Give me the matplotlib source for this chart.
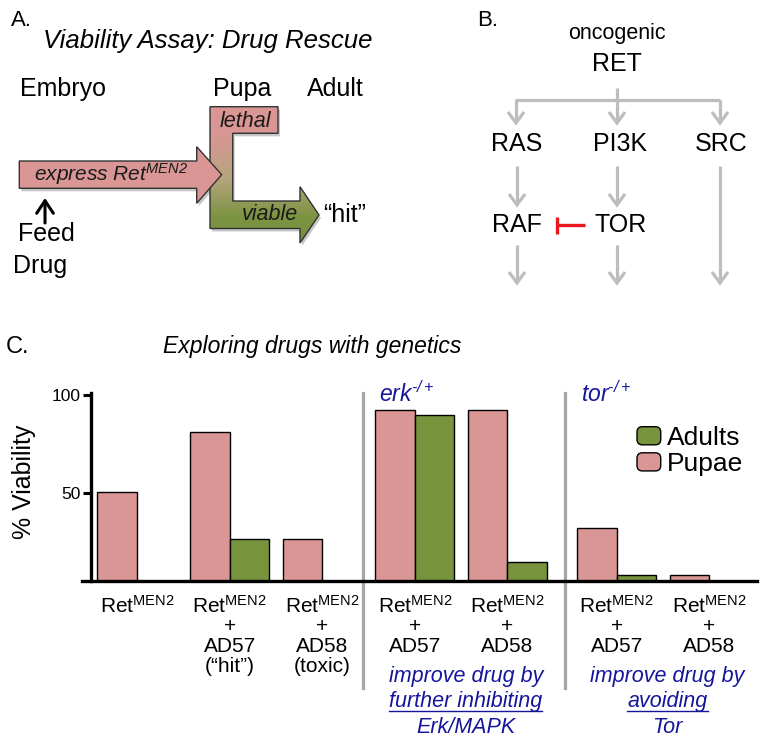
import numpy as np
import matplotlib
matplotlib.use('Agg')
import matplotlib.pyplot as plt
from matplotlib.patches import Polygon, Rectangle, FancyBboxPatch
from matplotlib.lines import Line2D
from matplotlib.colors import LinearSegmentedColormap
from matplotlib.legend_handler import HandlerPatch
import matplotlib.transforms as mtransforms

plt.rcParams['font.family'] = ['Liberation Sans', 'DejaVu Sans']
plt.rcParams['mathtext.fontset'] = 'custom'
plt.rcParams['mathtext.rm'] = 'Liberation Sans'
plt.rcParams['mathtext.it'] = 'Liberation Sans:italic'

# ---------------- data (panel C) ----------------
RET = r'Ret$^{\mathregular{MEN2}}$'
categories = [RET,
              RET + '\n+\nAD57\n(\u201chit\u201d)',
              RET + '\n+\nAD58\n(toxic)',
              RET + '\n+\nAD57',
              RET + '\n+\nAD58',
              RET + '\n+\nAD57',
              RET + '\n+\nAD58']
pupae = [50.5, 81, 26.7, 92.5, 92.5, 32, 8]
adults = [0, 26.7, 0, 90, 15, 8, 0]
sections = [0, 0, 0, 1, 1, 2, 2]
section_titles = ['', 'erk$^{\\mathregular{\u2010/+}}$', 'tor$^{\\mathregular{\u2010/+}}$']
section_notes = ['', 'improve drug by\nfurther inhibiting\nErk/MAPK',
                 'improve drug by\navoiding\nTor']
series_names = ['Adults', 'Pupae']
yticks = [50, 100]
ytick_labels = ['50', '100']

# ---------------- panel B nodes ----------------
pathway_nodes = {'RET': (617, 71), 'RAS': (517, 151), 'PI3K': (620, 151),
                 'SRC': (721, 151), 'RAF': (517, 232), 'TOR': (621, 232)}

PINK = '#D99694'
GREEN = '#77933C'
GRAY = '#BDBDBD'
NAVY = '#16169A'

W, H = 762, 743
fig = plt.figure(figsize=(W / 100, H / 100), dpi=100)


def fx(px):
    return px / W


def fy(py):
    return 1 - py / H


# ---------------- overlay for diagrams ----------------
ov = fig.add_axes([0, 0, 1, 1])
ov.set_facecolor('none')
ov.axis('off')

# Panel A
fig.text(fx(11), fy(26), 'A.', fontsize=16, va='baseline')
fig.text(fx(208), fy(48), 'Viability Assay: Drug Rescue', fontsize=18.5,
         style='italic', ha='center', va='baseline')
fig.text(fx(20), fy(96), 'Embryo', fontsize=18, va='baseline')
fig.text(fx(242), fy(96), 'Pupa', fontsize=18, va='baseline', ha='center')
fig.text(fx(335), fy(96), 'Adult', fontsize=18, va='baseline', ha='center')

L_pts = [(210, 106.7), (278, 106.7), (278, 133.3), (232.7, 133.3), (232.7, 201),
         (300, 201), (300, 186.7), (319, 215), (300, 243), (300, 228.5), (210, 228.5)]
arrow_pts = [(19.3, 161), (196.7, 161), (196.7, 146.7), (221.7, 174.7),
             (196.7, 203.3), (196.7, 188.3), (19.3, 188.3)]

for pts in (L_pts, arrow_pts):
    sh = Polygon([(x + 2, y + 3) for x, y in pts], closed=True,
                 facecolor=(0, 0, 0, 0.22), edgecolor='none', zorder=1)
    ov.add_patch(sh)

Lpoly = Polygon(L_pts, closed=True, facecolor='none', edgecolor='#333333',
                lw=1.0, zorder=3)
ov.add_patch(Lpoly)
cmap = LinearSegmentedColormap.from_list(
    'pg', [(0, '#D99694'), (0.25, '#D99694'), (0.55, '#B4A57C'),
           (0.8, '#7D9443'), (1, '#72903A')])
grad = np.linspace(0, 1, 256)[:, None]
im = ov.imshow(grad, extent=(205, 325, 245, 100), cmap=cmap, aspect='auto',
               zorder=2, origin='upper')
im.set_clip_path(Lpoly)

apoly = Polygon(arrow_pts, closed=True, facecolor=PINK, edgecolor='#333333',
                lw=1.0, zorder=4)
ov.add_patch(apoly)

ov.text(34, 181, r'express Ret$^{\mathregular{MEN2}}$', fontsize=15,
        style='italic', va='baseline', ha='left', zorder=5, color='#1a1a1a')
ov.text(245, 127, 'lethal', fontsize=15.5, style='italic', ha='center',
        va='baseline', zorder=5, color='#1a1a1a')
ov.text(270, 220, 'viable', fontsize=15.5, style='italic', ha='center',
        va='baseline', zorder=5, color='#1a1a1a')
ov.text(323, 222, '\u201chit\u201d', fontsize=18, ha='left', va='baseline', zorder=5)

ov.annotate('', xy=(45, 198), xytext=(45, 223),
            arrowprops=dict(arrowstyle='->,head_length=0.45,head_width=0.3',
                            color='black', lw=2.2, mutation_scale=20,
                            shrinkA=0, shrinkB=0))
ov.text(46, 241, 'Feed', fontsize=18, ha='center', va='baseline')
ov.text(40, 273, 'Drug', fontsize=18, ha='center', va='baseline')

# Panel B
fig.text(fx(477), fy(26), 'B.', fontsize=16, va='baseline')
ov.text(617, 39, 'oncogenic', fontsize=15.5, ha='center', va='baseline')
for name, (x, y) in pathway_nodes.items():
    ov.text(x, y, name, fontsize=18, ha='center', va='baseline')


def gline(xs, ys, color=GRAY, lw=2.3):
    ov.add_line(Line2D(xs, ys, color=color, lw=lw, solid_capstyle='butt',
                       solid_joinstyle='miter'))


def garrow(x, y0, y1):
    gline([x, x], [y0, y1 - 1])
    gline([x - 8, x, x + 8], [y1 - 11, y1, y1 - 11])


gline([617, 617], [88, 100])
gline([515, 720], [100, 100])
for x in (516, 617, 720):
    garrow(x, 100, 123)
garrow(517, 166, 205)
garrow(617, 166, 205)
garrow(720, 166, 283)
garrow(517, 245, 283)
garrow(617, 245, 283)
gline([585, 557], [225, 225], color='#E8191C', lw=2.4)
gline([557, 557], [216.5, 233.5], color='#E8191C', lw=2.4)

ov.set_xlim(0, W)
ov.set_ylim(H, 0)

# ---------------- Panel C ----------------
fig.text(fx(6), fy(353), 'C.', fontsize=17, va='baseline')
fig.text(fx(312), fy(353), 'Exploring drugs with genetics', fontsize=16.5,
         style='italic', ha='center', va='baseline')

ax = fig.add_axes([fx(81.7), fy(581), fx(756.7) - fx(81.7), fy(393) - fy(581)])
ax.set_facecolor('none')
section_gap = [0.0, 0.0, 0.18]
sec = np.array(sections)
centers = np.arange(len(categories)) + np.array([section_gap[s] for s in sec])
w = 0.4266
ax.bar(centers - w / 2, pupae, w, color=PINK, edgecolor='black', lw=1.0, zorder=2)
ax.bar(centers + w / 2, adults, w, color=GREEN, edgecolor='black', lw=1.0, zorder=2)
ax.set_xlim(-0.597, 6.692)
ax.set_ylim(5.1, 101)
for s in ('top', 'right'):
    ax.spines[s].set_visible(False)
ax.spines['left'].set_position(('data', -0.5))
ax.spines['left'].set_linewidth(2.4)
ax.spines['bottom'].set_linewidth(2.4)
ax.spines['bottom'].set_zorder(3)
ax.set_xticks([])
ax.set_yticks(yticks)
ax.set_yticklabels(ytick_labels, fontsize=12.5)
ax.tick_params(axis='y', length=6, width=2.2, pad=1.5, direction='out')

fig.text(fx(24), fy(482), '% Viability', fontsize=18, rotation=90,
         ha='center', va='center')

trans_lbl = mtransforms.blended_transform_factory(ax.transData, fig.transFigure)
for i, lab in enumerate(categories):
    for k, line in enumerate(lab.split('\n')):
        ax.text(centers[i], fy(613 + k * 19.5), line, transform=trans_lbl,
                ha='center', va='baseline', fontsize=15, clip_on=False)

trans_sep = mtransforms.blended_transform_factory(ax.transData, ax.transAxes)
ybot = (581 - 688) / (581 - 393)
note_texts = []
for s in range(1, 3):
    idx = np.where(sec == s)[0]
    sx = centers[idx[0]] - w - 0.13
    ax.plot([sx, sx], [ybot, 1.0], transform=trans_sep, color='#A6A6A6',
            lw=2.3, clip_on=False, zorder=1)
    ax.annotate(section_titles[s], xy=(sx, 1.0), xycoords=trans_sep,
                xytext=(16 * 0.72, -9 * 0.72), textcoords='offset points',
                ha='left', va='baseline', fontsize=16.5, style='italic',
                color=NAVY, annotation_clip=False)
    cx = centers[idx].mean() + 0.05
    for k, line in enumerate(section_notes[s].split('\n')):
        t = ax.text(cx, fy(682 + k * 25.5), line, transform=trans_lbl,
                    ha='center', va='baseline', fontsize=15.5,
                    style='italic', color=NAVY, clip_on=False)
        if k == 1:
            note_texts.append(t)


class RoundHandler(HandlerPatch):
    def create_artists(self, legend, orig_handle, xdescent, ydescent, width,
                       height, fontsize, trans):
        p = FancyBboxPatch((-xdescent, -ydescent), width, height,
                           boxstyle='round,pad=0,rounding_size=%f' % (height * 0.3),
                           facecolor=orig_handle.get_facecolor(),
                           edgecolor='black', lw=1.0, transform=trans)
        return [p]


handles = [Rectangle((0, 0), 1, 1, facecolor=GREEN, edgecolor='black'),
           Rectangle((0, 0), 1, 1, facecolor=PINK, edgecolor='black')]
ax.legend(handles, series_names, loc='upper left',
          bbox_to_anchor=(fx(637), fy(426)), bbox_transform=fig.transFigure,
          frameon=False, fontsize=19, handlelength=0.9, handleheight=0.68,
          handletextpad=0.25, labelspacing=0.08, borderpad=0, borderaxespad=0,
          handler_map={Rectangle: RoundHandler()})

# underline second line of notes
fig.canvas.draw()
r = fig.canvas.get_renderer()
for t in note_texts:
    bb = t.get_window_extent(renderer=r)
    _, ybase = t.get_transform().transform(t.get_position())
    yline = ybase - 3.5
    fig.add_artist(Line2D([bb.x0 / W, bb.x1 / W], [yline / H, yline / H],
                          transform=fig.transFigure, color=NAVY, lw=1.0))

fig.savefig('out.png', dpi=100, facecolor='white')
